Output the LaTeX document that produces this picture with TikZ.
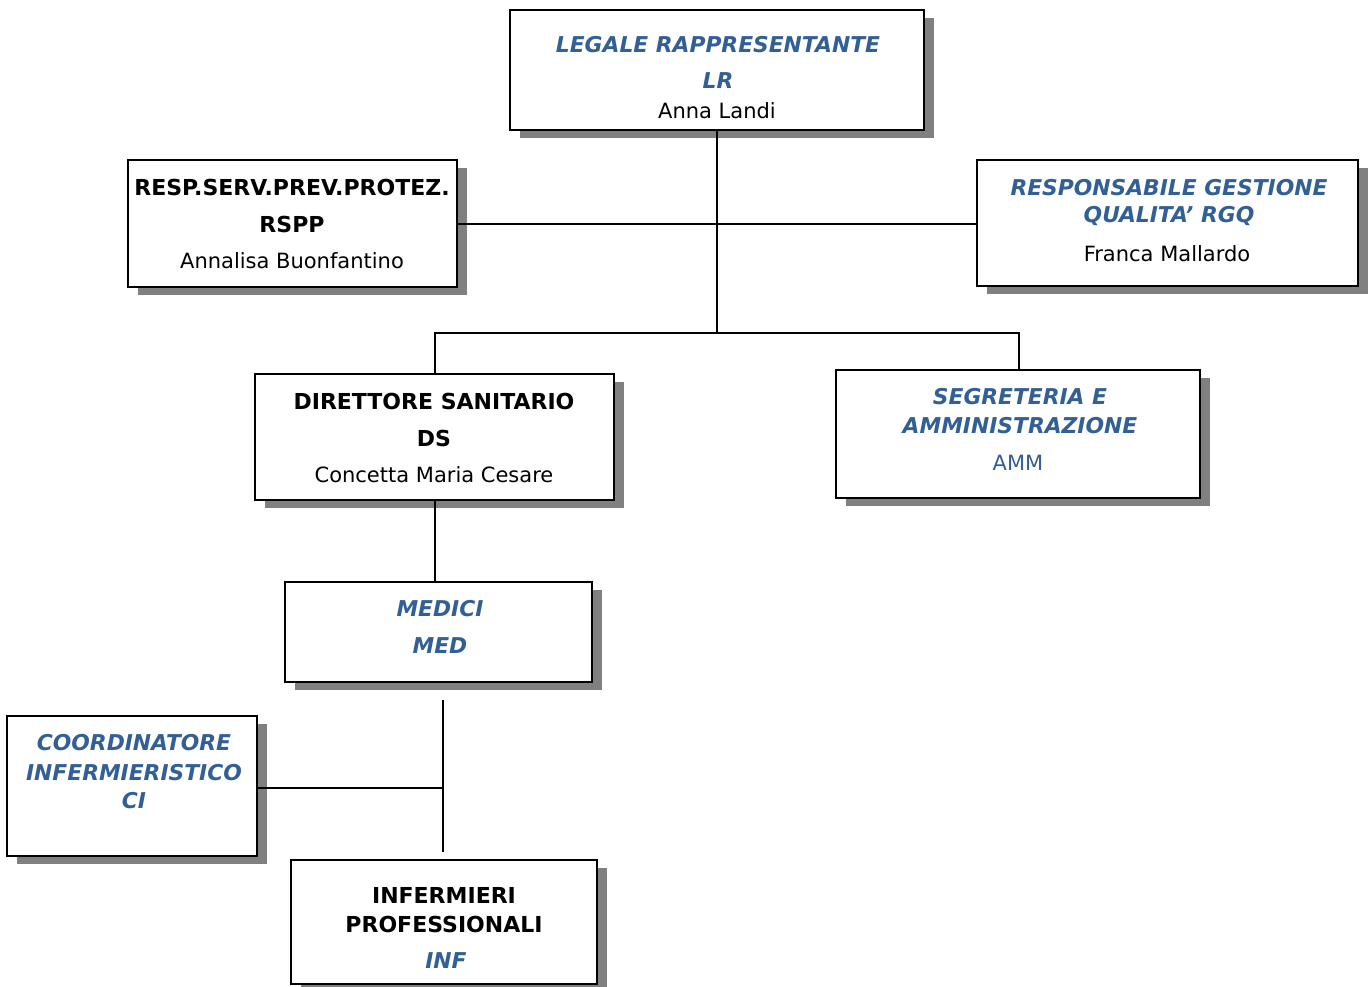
\documentclass[tikz,border=0pt]{standalone}
\usepackage{fontspec}
\setmainfont{DejaVu Sans}
\usetikzlibrary{shadows}
\definecolor{tblue}{RGB}{50,95,150}
\definecolor{shade}{RGB}{128,128,128}
\begin{document}
\begin{tikzpicture}[x=1pt,y=-1pt,
  box/.style={draw=black, line width=2.8pt, fill=white, rectangle, inner sep=0pt,
    general shadow={fill=shade, shadow xshift=10pt, shadow yshift=-8pt}},
  conn/.style={draw=black, line width=2.2pt},
  txt/.style={inner sep=0pt, anchor=center, font=\fontsize{21}{25}\selectfont},
  tbi/.style={txt, text=tblue, font=\fontsize{21.8}{25}\selectfont\bfseries\itshape},
  tbk/.style={txt, text=black, font=\fontsize{22}{25}\selectfont\bfseries},
  trk/.style={txt, text=black},
  trb/.style={txt, text=tblue}]
\useasboundingbox[fill=white] (0,0) rectangle (1368,986);
% boxes
\node[box, minimum width=414pt, minimum height=120pt] (lr) at (717,70) {};
\node[box, minimum width=329pt, minimum height=127pt] (rspp) at (292.5,223.5) {};
\node[box, minimum width=381pt, minimum height=126pt] (rgq) at (1167.5,223) {};
\node[box, minimum width=359pt, minimum height=126pt] (ds) at (434.5,437) {};
\node[box, minimum width=364pt, minimum height=128pt] (amm) at (1018,434) {};
\node[box, minimum width=307pt, minimum height=100pt] (med) at (438.5,632) {};
\node[box, minimum width=250pt, minimum height=140pt] (ci) at (132,786) {};
\node[box, minimum width=306pt, minimum height=124pt] (inf) at (444,922) {};
% junction coordinates
\coordinate (j1) at (717,224);
\coordinate (j2) at (717,333);
\coordinate (jl) at (435,333);
\coordinate (jr) at (1019,333);
\coordinate (m1) at (443,700);
\coordinate (m2) at (443,852);
\coordinate (m3) at (443,788);
% connectors
\draw[conn] (lr.south -| j2) -- (j2);
\draw[conn] (rspp.east |- j1) -- (rgq.west |- j1);
\draw[conn] (jl |- ds.north) -- (jl) -- (jr) -- (jr |- amm.north);
\draw[conn] (ds.south -| jl) -- (med.north -| jl);
\draw[conn] (m1) -- (m2);
\draw[conn] (ci.east |- m3) -- (m3);
% texts
\node[tbi] (t1) at (718,45) {LEGALE RAPPRESENTANTE};
\node[tbi] (t2) at (718,81) {LR};
\node[trk] (t3) at (717,111) {Anna Landi};
\node[tbk] (t4) at (292,187) {RESP.SERV.PREV.PROTEZ.};
\node[tbk] (t5) at (292,224) {RSPP};
\node[trk] (t6) at (292,261) {Annalisa Buonfantino};
\node[tbi] (t7) at (1169,188) {RESPONSABILE GESTIONE};
\node[tbi] (t8) at (1169,216) {QUALITA’ RGQ};
\node[trk] (t9) at (1167,254) {Franca Mallardo};
\node[tbk] (t10) at (434,401) {DIRETTORE SANITARIO};
\node[tbk] (t11) at (434,438) {DS};
\node[trk] (t12) at (434,475) {Concetta Maria Cesare};
\node[tbi] (t13) at (1020,397) {SEGRETERIA E};
\node[tbi] (t14) at (1020,426) {AMMINISTRAZIONE};
\node[trb] (t15) at (1018,463) {AMM};
\node[tbi] (t16) at (440,609) {MEDICI};
\node[tbi] (t17) at (440,646) {MED};
\node[tbi] (t18) at (134,743) {COORDINATORE};
\node[tbi] (t19) at (134,773) {INFERMIERISTICO};
\node[tbi] (t20) at (134,801) {CI};
\node[tbk] (t21) at (444,895) {INFERMIERI};
\node[tbk] (t22) at (444,924) {PROFESSIONALI};
\node[tbi] (t23) at (446,961) {INF};
\end{tikzpicture}
\end{document}
